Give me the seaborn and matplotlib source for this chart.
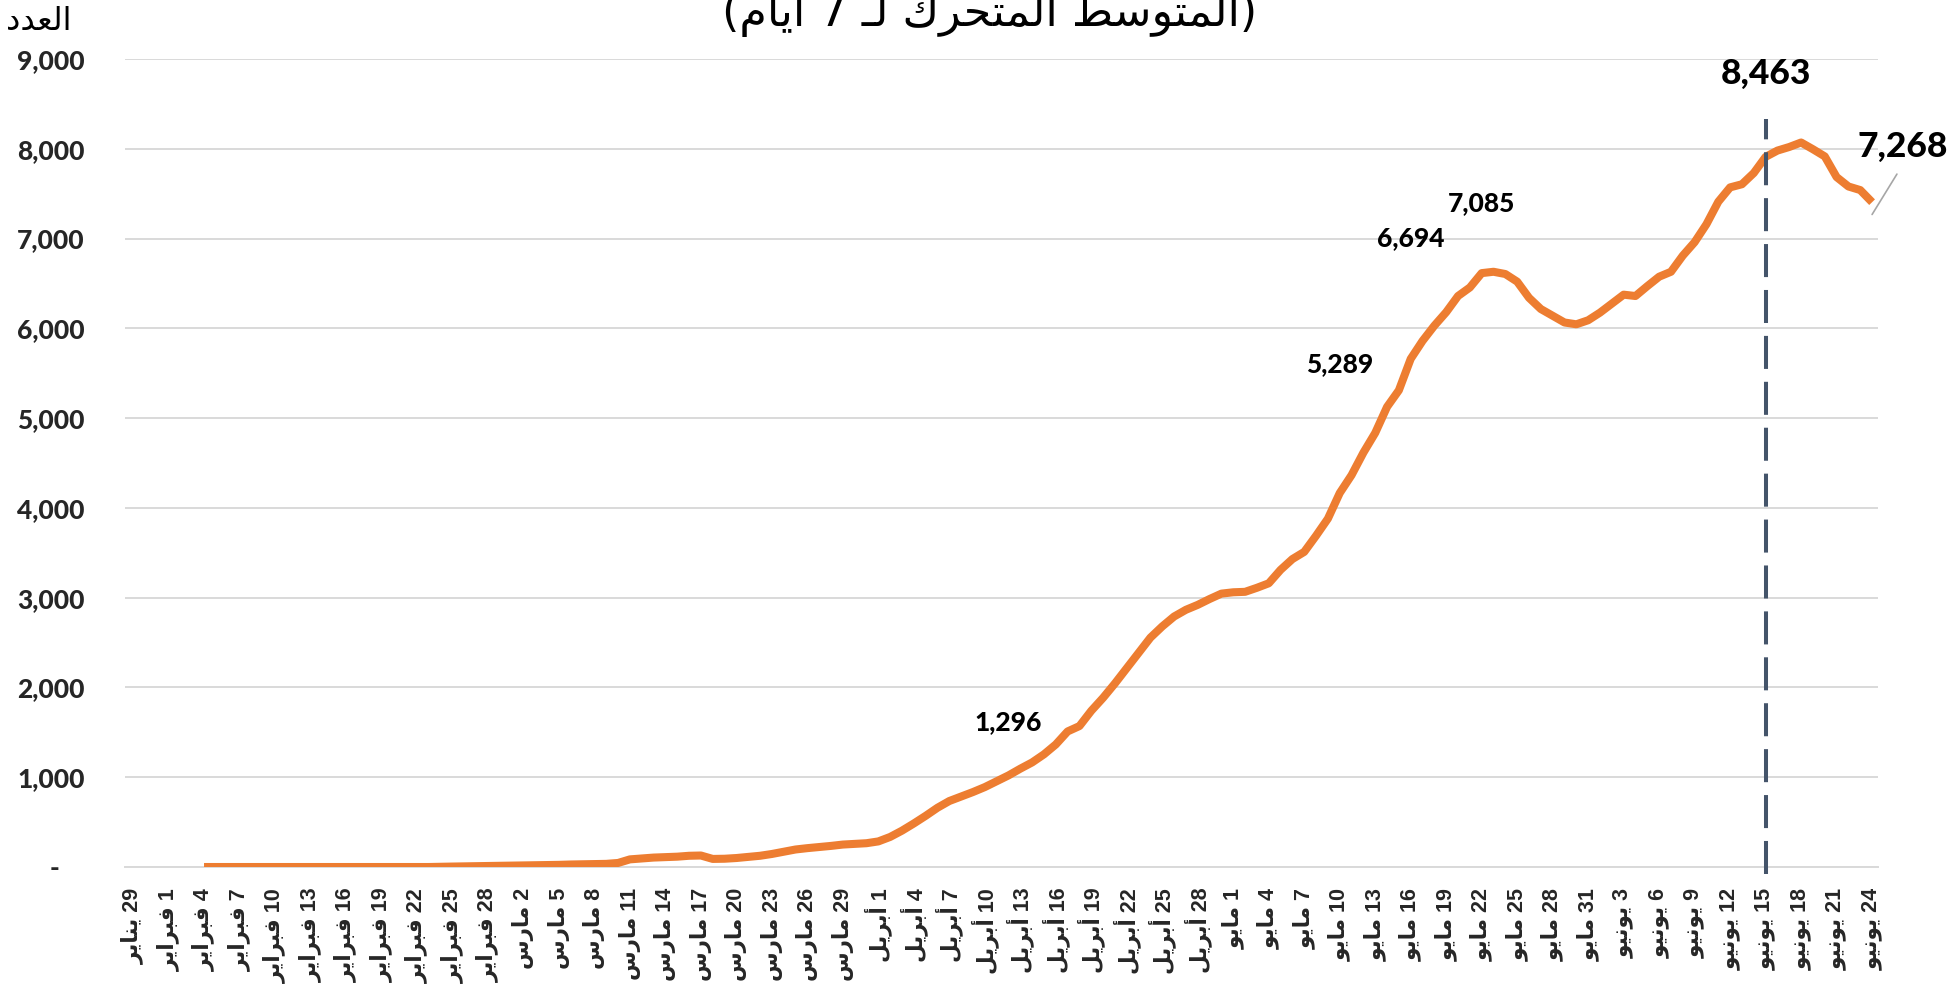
import re
import numpy as np
import pandas as pd
import matplotlib
matplotlib.use("Agg")
import matplotlib.pyplot as plt
import seaborn as sns

# ---------------- data ----------------
dates = pd.date_range("2020-01-29", "2020-06-24", freq="D")
nan = np.nan
moving_avg = [
    nan, nan, nan, nan, nan, nan,                                   # 29 Jan - 3 Feb
    0, 0, 0, 0, 0, 0, 0, 0, 0, 0, 0, 0, 0, 0, 0, 0, 0, 0, 0, 0,     # 4 - 23 Feb
    3, 5, 7, 9, 11, 12,                                             # 24 - 29 Feb
    14, 16, 18, 20, 24, 28, 30, 32, 35, 45,                         # 1 - 10 Mar
    85, 95, 105, 110, 115, 125, 128, 90, 92, 100,                   # 11 - 20 Mar
    112, 125, 145, 170, 195, 210, 222, 235, 250, 258, 265,          # 21 - 31 Mar
    285, 335, 405, 485, 570, 660, 735, 785, 835, 890,               # 1 - 10 Apr
    955, 1020, 1095, 1165, 1255, 1365, 1510, 1570, 1740, 1885,      # 11 - 20 Apr
    2045, 2215, 2385, 2555, 2680, 2790, 2865, 2920, 2985, 3045,     # 21 - 30 Apr
    3060, 3065, 3110, 3160, 3310, 3430, 3510, 3690, 3880, 4165,     # 1 - 10 May
    4365, 4615, 4835, 5125, 5310, 5660, 5860, 6030, 6180, 6360,     # 11 - 20 May
    6455, 6615, 6630, 6605, 6520, 6340, 6215, 6140, 6065, 6045, 6090,  # 21 - 31 May
    6175, 6275, 6375, 6360, 6470, 6575, 6630, 6810, 6960, 7160,     # 1 - 10 Jun
    7410, 7570, 7605, 7730, 7910, 7980, 8020, 8070, 7995, 7915,     # 11 - 20 Jun
    7685, 7580, 7540, 7405,                                         # 21 - 24 Jun
]
# daily values shown as labels
label_dates = ["2020-04-12", "2020-05-10", "2020-05-16", "2020-05-22", "2020-06-15"]
label_values = [1296, 5289, 6694, 7085, 8463]
last_date = "2020-06-24"
last_value = 7268
peak_date = "2020-06-15"

y_ticks = [0, 1000, 2000, 3000, 4000, 5000, 6000, 7000, 8000, 9000]
month_names = {1: "يناير", 2: "فبراير", 3: "مارس", 4: "أبريل", 5: "مايو", 6: "يونيو"}
title_text = "(المتوسط المتحرك لـ 7 ايام)"
ylabel_text = "العدد"

# ---------------- Arabic shaping (presentation forms + visual order) ----------------
AR_FORMS = {
    '\u0627': ('\uFE8D', '\uFE8E', None, None),
    '\u0623': ('\uFE83', '\uFE84', None, None),
    '\u0628': ('\uFE8F', '\uFE90', '\uFE91', '\uFE92'),
    '\u062A': ('\uFE95', '\uFE96', '\uFE97', '\uFE98'),
    '\u062D': ('\uFEA1', '\uFEA2', '\uFEA3', '\uFEA4'),
    '\u062F': ('\uFEA9', '\uFEAA', None, None),
    '\u0631': ('\uFEAD', '\uFEAE', None, None),
    '\u0633': ('\uFEB1', '\uFEB2', '\uFEB3', '\uFEB4'),
    '\u0637': ('\uFEC1', '\uFEC2', '\uFEC3', '\uFEC4'),
    '\u0639': ('\uFEC9', '\uFECA', '\uFECB', '\uFECC'),
    '\u0641': ('\uFED1', '\uFED2', '\uFED3', '\uFED4'),
    '\u0643': ('\uFED9', '\uFEDA', '\uFEDB', '\uFEDC'),
    '\u0644': ('\uFEDD', '\uFEDE', '\uFEDF', '\uFEE0'),
    '\u0645': ('\uFEE1', '\uFEE2', '\uFEE3', '\uFEE4'),
    '\u0646': ('\uFEE5', '\uFEE6', '\uFEE7', '\uFEE8'),
    '\u0648': ('\uFEED', '\uFEEE', None, None),
    '\u064A': ('\uFEF1', '\uFEF2', '\uFEF3', '\uFEF4'),
    '\u0640': ('\u0640', '\u0640', '\u0640', '\u0640'),
}


def shape_word(w):
    out = []
    n = len(w)
    for i, c in enumerate(w):
        f = AR_FORMS.get(c)
        if f is None:
            out.append(c)
            continue
        prev = w[i - 1] if i > 0 else None
        nxt = w[i + 1] if i < n - 1 else None
        jp = prev is not None and prev in AR_FORMS and AR_FORMS[prev][2] is not None
        jn = f[2] is not None and nxt is not None and nxt in AR_FORMS
        if jp and jn:
            out.append(f[3])
        elif jp:
            out.append(f[1])
        elif jn:
            out.append(f[2])
        else:
            out.append(f[0])
    return "".join(out)


def rtl(s):
    toks = re.findall(r"[\u0600-\u06FF]+|[0-9,]+|.", s)
    vis = []
    for t in reversed(toks):
        if re.match(r"[\u0600-\u06FF]", t):
            vis.append(shape_word(t)[::-1])
        elif t == "(":
            vis.append(")")
        elif t == ")":
            vis.append("(")
        else:
            vis.append(t)
    return "".join(vis)


# ---------------- figure ----------------
sns.set_theme(style="white")
plt.rcParams["font.family"] = ["Lato", "DejaVu Sans"]

W, H = 1958, 989
fig = plt.figure(figsize=(W / 100, H / 100), dpi=100)
ax = fig.add_axes([125 / W, 1 - 867 / H, (1878 - 125) / W, (867 - 59) / H])

df = pd.DataFrame({"idx": np.arange(len(dates)), "value": moving_avg})
sns.lineplot(data=df, x="idx", y="value", ax=ax, color="#ED7D31", linewidth=5.8,
             solid_joinstyle="round", solid_capstyle="butt", zorder=3)

ax.set_xlim(-0.68, len(dates) - 1 + 0.5)
ax.set_ylim(y_ticks[0], y_ticks[-1])

# grid & spines
ax.set_yticks(y_ticks)
ax.yaxis.grid(True, color="#D9D9D9", linewidth=1.4)
ax.xaxis.grid(False)
for side in ["left", "right", "top"]:
    ax.spines[side].set_visible(False)
ax.spines["bottom"].set_color("#D9D9D9")
ax.spines["bottom"].set_linewidth(1.4)

ylabels = ["-    " if v == 0 else f"{v:,}" for v in y_ticks]
ax.set_yticklabels(ylabels, fontsize=19, fontweight="black", family=["Lato", "DejaVu Sans"])
ax.tick_params(axis="y", length=0, pad=29)

tick_pos = list(range(0, len(dates), 3))
tick_lbls = [rtl(f"{dates[i].day} {month_names[dates[i].month]}") for i in tick_pos]
ax.set_xticks(tick_pos)
ax.set_xticklabels(tick_lbls, rotation=90, fontsize=15.5, fontweight="bold",
                   family=["Liberation Sans", "DejaVu Sans"])
ax.tick_params(axis="x", length=0, pad=15)
ax.set_xlabel("")
ax.set_ylabel("")

date_index = {d.strftime("%Y-%m-%d"): i for i, d in enumerate(dates)}

# dashed marker at peak date
px = date_index[peak_date]
ax.vlines(px, -80, 8330, colors="#44546A", linestyles=(0, (8.2, 3.2)), linewidth=2.9,
          clip_on=False, zorder=4)

# daily value labels
for d, v in zip(label_dates, label_values):
    big = d == peak_date
    ax.annotate(f"{v:,}", xy=(date_index[d], v), xytext=(0, 16.5 if big else 14.5),
                textcoords="offset points", ha="center", va="baseline",
                fontsize=25.5 if big else 19, fontweight="black", color="black",
                annotation_clip=False, zorder=5)

# last value label with leader line
lx = date_index[last_date]
ax.plot([lx, lx + 2.1], [last_value, last_value + 450], color="#A6A6A6", linewidth=1.2,
        clip_on=False, zorder=4)
ax.text(lx + 2.6, last_value + 640, f"{last_value:,}", ha="center", va="baseline",
        fontsize=25.5, fontweight="black", color="black", clip_on=False)

# title (partly cut at the top) and y label
fig.text(990 / W, 1 - 26 / H, rtl(title_text), ha="center", va="baseline",
         fontsize=32, family=["DejaVu Sans"], color="black")
fig.text(39 / W, 1 - 30 / H, rtl(ylabel_text), ha="center", va="baseline",
         fontsize=23, family=["DejaVu Sans"], color="black")

fig.savefig("out.png", dpi=100, facecolor="white")
